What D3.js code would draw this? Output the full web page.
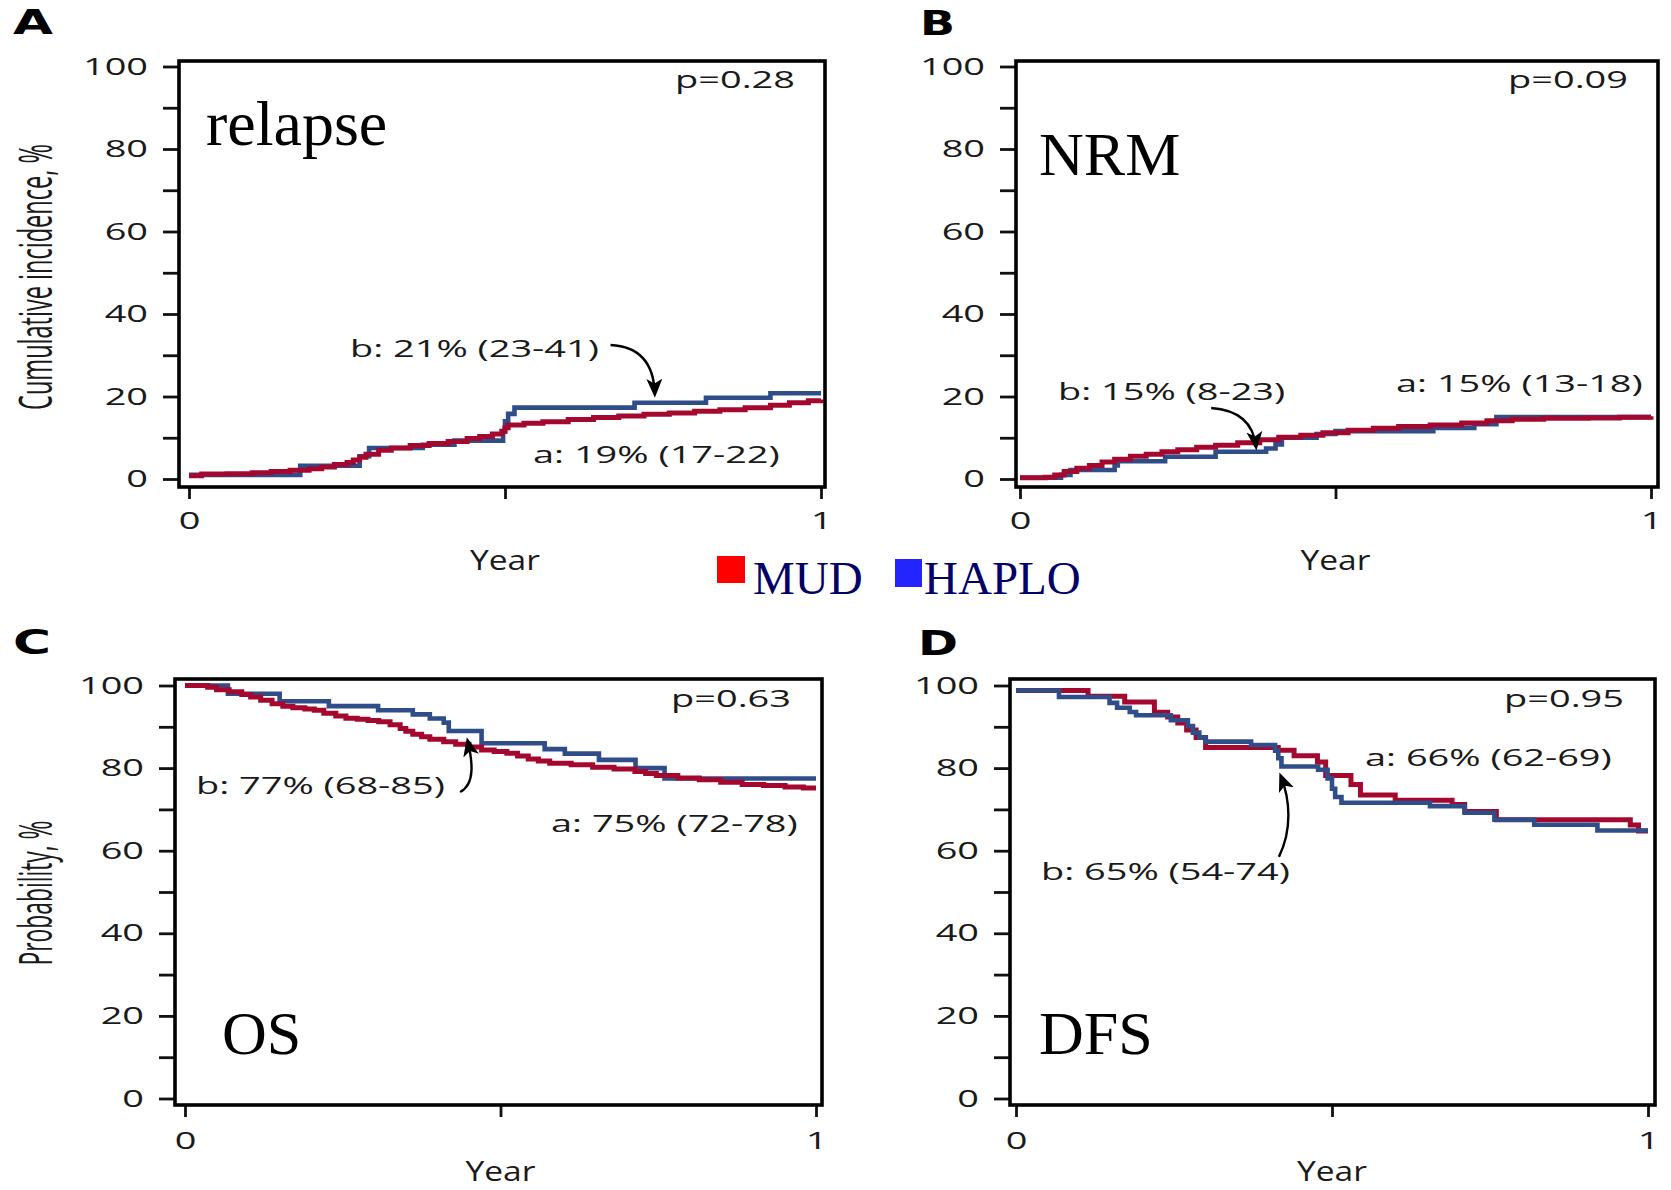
<!DOCTYPE html>
<html><head><meta charset="utf-8">
<script src="https://cdn.jsdelivr.net/npm/d3@7"></script>
<style>body{margin:0;background:#fff;} svg{display:block;}</style>
</head><body>
<svg id="chart" width="1671" height="1190"></svg>
<script>
// ---------------- DATA ----------------
const panelLetters = ["A", "B", "C", "D"];
const panelTitles = ["relapse", "NRM", "OS", "DFS"];
const yAxisTitles = ["Cumulative incidence, %", "", "Probability, %", ""];
const xAxisTitle = "Year";
const pValues = ["p=0.28", "p=0.09", "p=0.63", "p=0.95"];
const seriesNames = ["MUD", "HAPLO"];
const estimateLabelsMUD = ["a: 19% (17-22)", "a: 15% (13-18)", "a: 75% (72-78)", "a: 66% (62-69)"];
const estimateLabelsHAPLO = ["b: 21% (23-41)", "b: 15% (8-23)", "b: 77% (68-85)", "b: 65% (54-74)"];
const yTickValues = [0, 10, 20, 30, 40, 50, 60, 70, 80, 90, 100];
const yTickLabels = ["0", "", "20", "", "40", "", "60", "", "80", "", "100"];
const xTickValues = [0, 0.5, 1];
const xTickLabels = ["0", "", "1"];

// [year, %]
const relapseMUD = [[0,0.8],[0.02,1.2],[0.06,1.3],[0.1,1.5],[0.13,1.8],[0.16,2.1],[0.19,2.5],[0.21,2.9],[0.23,3.5],[0.25,4.0],[0.26,4.6],[0.27,5.3],[0.28,6.0],[0.30,7.0],[0.32,7.5],[0.35,8.1],[0.38,8.6],[0.41,9.1],[0.44,9.8],[0.46,10.3],[0.48,10.9],[0.495,11.6],[0.50,12.4],[0.505,13.1],[0.53,13.5],[0.56,13.9],[0.60,14.4],[0.64,14.9],[0.68,15.3],[0.72,15.7],[0.76,16.0],[0.80,16.4],[0.84,16.8],[0.88,17.3],[0.92,17.9],[0.95,18.5],[0.98,19.0],[1.0,19.3]];
const relapseHAPLO = [[0,1.0],[0.176,3.2],[0.27,5.5],[0.285,7.5],[0.37,8.3],[0.42,9.3],[0.497,11.5],[0.50,14.0],[0.505,15.8],[0.515,17.3],[0.705,18.5],[0.818,19.7],[0.92,20.8],[1.0,20.8]];
const nrmMUD = [[0,0.3],[0.04,0.4],[0.055,1.0],[0.07,1.8],[0.09,2.6],[0.11,3.3],[0.13,4.1],[0.15,4.8],[0.175,5.5],[0.2,6.0],[0.225,6.6],[0.25,7.1],[0.28,7.7],[0.31,8.2],[0.345,8.8],[0.38,9.5],[0.41,10.1],[0.445,10.6],[0.48,11.2],[0.52,11.8],[0.56,12.3],[0.6,12.7],[0.65,13.1],[0.7,13.6],[0.74,14.1],[0.78,14.5],[0.83,14.7],[0.9,14.8],[0.95,15.0],[1.0,15.2]];
const nrmHAPLO = [[0,0.3],[0.065,1.0],[0.08,2.2],[0.15,3.3],[0.155,4.3],[0.23,5.4],[0.31,6.6],[0.39,7.4],[0.405,8.4],[0.415,10.0],[0.47,10.9],[0.50,11.6],[0.655,12.4],[0.72,13.3],[0.755,15.0],[1.0,15.0]];
const osMUD = [[0,100],[0.036,99.6],[0.05,99.0],[0.07,98.5],[0.09,97.8],[0.104,97.2],[0.12,96.4],[0.138,95.6],[0.155,95.0],[0.171,94.6],[0.19,94.3],[0.205,94.0],[0.22,93.3],[0.239,92.6],[0.255,92.1],[0.273,91.8],[0.29,91.5],[0.307,91.2],[0.325,90.5],[0.341,89.6],[0.35,88.9],[0.361,88.2],[0.375,87.6],[0.388,87.0],[0.41,86.4],[0.429,85.8],[0.45,85.1],[0.47,84.4],[0.49,84.0],[0.51,83.6],[0.527,82.9],[0.544,82.2],[0.56,81.7],[0.578,81.2],[0.612,80.8],[0.646,80.2],[0.68,79.8],[0.713,79.2],[0.73,78.7],[0.747,78.2],[0.781,77.6],[0.815,77.2],[0.849,76.6],[0.883,76.0],[0.917,75.8],[0.951,75.4],[0.98,75.2],[1.0,75.2]];
const osHAPLO = [[0,100],[0.068,98],[0.15,96.2],[0.228,95],[0.306,94],[0.361,93],[0.388,92],[0.41,91],[0.418,89],[0.47,86],[0.57,84.6],[0.602,83.5],[0.656,82],[0.714,80],[0.76,77.5],[1.0,77.5]];
const dfsMUD = [[0,98.8],[0.114,97.4],[0.172,96.0],[0.219,93.5],[0.24,92.4],[0.256,90.9],[0.27,89.2],[0.285,87.4],[0.30,85.0],[0.415,84.3],[0.44,83.0],[0.477,81.5],[0.49,78.2],[0.53,76.0],[0.545,73.5],[0.60,72.2],[0.69,71.2],[0.71,69.5],[0.76,67.5],[0.972,66.2],[0.985,64.8],[1.0,64.8]];
const dfsHAPLO = [[0,98.8],[0.068,97.2],[0.148,95.8],[0.16,94.6],[0.18,93.6],[0.19,92.8],[0.245,91.6],[0.272,90.2],[0.28,88.6],[0.29,87.4],[0.30,86.4],[0.372,85.6],[0.41,84.2],[0.415,82.4],[0.42,80.4],[0.478,79.6],[0.493,77.5],[0.50,75.0],[0.505,73.0],[0.515,71.6],[0.655,70.8],[0.71,69.2],[0.757,67.5],[0.82,66.3],[0.92,64.9],[1.0,64.9]];

const mudSeries = [relapseMUD, nrmMUD, osMUD, dfsMUD];
const haploSeries = [relapseHAPLO, nrmHAPLO, osHAPLO, dfsHAPLO];

// arrows in data units [year, %]: start, control(s), tip
const arrowsData = [
  [[0.667,32.5],[0.735,32.0],[0.737,20.6]],
  [[0.303,17.2],[0.368,16.5],[0.374,7.8]],
  [[0.436,74.2],[0.461,76.2],[0.455,82.0],[0.448,86.6]],
  [[0.416,58.5],[0.437,65.0],[0.434,72.3],[0.419,78.1]]
];

// ---------------- LAYOUT ----------------
const layout = [
  {frame:[179,61,825,487], x0:189, x1:821, yTop:66.5, yBot:479, letter:[13,34,40], title:[206,145], yTitle:[52,277,266], yearY:570, p:[795,88], aPos:[533,463], bPos:[350,357], haploOnTop:false, xPad:13},
  {frame:[1016,61,1658,487], x0:1020, x1:1651, yTop:66.5, yBot:479, letter:[920,35,35], title:[1039,175], yTitle:null, yearY:570, p:[1628,88], aPos:[1396,392], bPos:[1058,400], haploOnTop:false, xPad:13},
  {frame:[175,679,822,1105], x0:185, x1:816, yTop:685.5, yBot:1098.5, letter:[13,654,38], title:[222,1054], yTitle:[52,893,145], yearY:1181, p:[791,707], aPos:[551,832], bPos:[196,794], haploOnTop:false, xPad:15},
  {frame:[1010,679,1655,1105], x0:1016, x1:1648, yTop:685.5, yBot:1098.5, letter:[918,655,40], title:[1039,1054], yTitle:null, yearY:1181, p:[1624,707], aPos:[1365,766], bPos:[1041,880], haploOnTop:true, xPad:15}
];

const COL_MUD = "#a5082f";
const COL_HAPLO = "#2f4d88";
const TXT = "#1a1a1a";
const SANS = "'Open Sans', 'DejaVu Sans', sans-serif";
const SERIF = "'Liberation Serif', 'Times New Roman', serif";
const STRETCH = 1.58;

const svg = d3.select("#chart");
const defs = svg.append("defs");
defs.append("marker").attr("id", "ah")
  .attr("viewBox", "0 0 10 10").attr("refX", 8).attr("refY", 5)
  .attr("markerUnits", "userSpaceOnUse").attr("markerWidth", 19).attr("markerHeight", 19)
  .attr("orient", "auto")
  .append("path").attr("d", "M0,0.8 L10,5 L0,9.2 L2.5,5 Z").attr("fill", "#000");

function stretch(sel, f) {
  sel.each(function () {
    const w = this.getComputedTextLength();
    if (w > 0) d3.select(this).attr("textLength", w * f).attr("lengthAdjust", "spacingAndGlyphs");
  });
}

layout.forEach((L, i) => {
  const g = svg.append("g");
  const x = d3.scaleLinear().domain([0, 1]).range([L.x0, L.x1]);
  const y = d3.scaleLinear().domain([0, 100]).range([L.yBot, L.yTop]);
  const [fl, ft, fr, fb] = L.frame;

  // y axis
  const yAxis = d3.axisLeft(y).tickValues(yTickValues).tickSize(16).tickPadding(15)
    .tickFormat(d => yTickLabels[yTickValues.indexOf(d)]);
  const ya = g.append("g").attr("transform", `translate(${fl},0)`).call(yAxis);
  ya.select(".domain").remove();
  ya.selectAll(".tick line").attr("stroke", "#111").attr("stroke-width", 2.8);
  ya.selectAll(".tick text").attr("fill", TXT).attr("font-family", SANS).attr("font-size", 24);
  stretch(ya.selectAll(".tick text"), STRETCH);

  // x axis
  const xAxis = d3.axisBottom(x).tickValues(xTickValues).tickSize(12).tickPadding(L.xPad)
    .tickFormat(d => xTickLabels[xTickValues.indexOf(d)]);
  const xa = g.append("g").attr("transform", `translate(0,${fb})`).call(xAxis);
  xa.select(".domain").remove();
  xa.selectAll(".tick line").attr("stroke", "#111").attr("stroke-width", 2.8);
  xa.selectAll(".tick text").attr("fill", TXT).attr("font-family", SANS).attr("font-size", 24);
  stretch(xa.selectAll(".tick text"), STRETCH);

  // curves
  const line = d3.line().x(d => x(d[0])).y(d => y(d[1])).curve(d3.curveStepAfter);
  const drawHaplo = () => g.append("path").datum(haploSeries[i]).attr("d", line)
    .attr("fill", "none").attr("stroke", COL_HAPLO).attr("stroke-width", 4.6);
  const drawMud = () => g.append("path").datum(mudSeries[i]).attr("d", line)
    .attr("fill", "none").attr("stroke", COL_MUD).attr("stroke-width", 5);
  if (L.haploOnTop) { drawMud(); drawHaplo(); } else { drawHaplo(); drawMud(); }

  // frame
  g.append("rect").attr("x", fl).attr("y", ft).attr("width", fr - fl).attr("height", fb - ft)
    .attr("fill", "none").attr("stroke", "#000").attr("stroke-width", 3.6);

  // panel letter
  g.append("text").attr("x", L.letter[0]).attr("y", L.letter[1]).text(panelLetters[i])
    .attr("font-family", "'DejaVu Sans', sans-serif").attr("font-weight", "bold").attr("font-size", 34)
    .attr("textLength", L.letter[2]).attr("lengthAdjust", "spacingAndGlyphs").attr("fill", "#000");

  // panel title
  g.append("text").attr("x", L.title[0]).attr("y", L.title[1]).text(panelTitles[i])
    .attr("font-family", SERIF).attr("font-size", i === 0 ? 64 : 62).attr("fill", "#000");

  // y title (condensed via horizontal scale of the rotated text)
  if (L.yTitle) {
    const yt = g.append("text").attr("text-anchor", "middle").text(yAxisTitles[i])
      .attr("font-family", "'Liberation Sans Narrow', 'Open Sans', sans-serif").attr("font-size", 46)
      .attr("fill", TXT);
    const w = yt.node().getComputedTextLength();
    const k = w > 0 ? L.yTitle[2] / w : 1;
    yt.attr("transform", `translate(${L.yTitle[0]},${L.yTitle[1]}) rotate(-90) scale(${k},1)`);
  }

  // x title
  g.append("text").attr("x", (L.x0 + L.x1) / 2).attr("y", L.yearY).attr("text-anchor", "middle")
    .text(xAxisTitle).attr("font-family", SANS).attr("font-size", 27)
    .attr("textLength", 70).attr("lengthAdjust", "spacingAndGlyphs").attr("fill", TXT);

  // p value
  const pt = g.append("text").attr("x", L.p[0]).attr("y", L.p[1]).attr("text-anchor", "end")
    .text(pValues[i]).attr("font-family", SANS).attr("font-size", 24).attr("fill", TXT);
  stretch(pt, STRETCH);

  // estimates
  const at = g.append("text").attr("x", L.aPos[0]).attr("y", L.aPos[1]).text(estimateLabelsMUD[i])
    .attr("font-family", SANS).attr("font-size", 24).attr("fill", TXT);
  const bt = g.append("text").attr("x", L.bPos[0]).attr("y", L.bPos[1]).text(estimateLabelsHAPLO[i])
    .attr("font-family", SANS).attr("font-size", 24).attr("fill", TXT);
  stretch(at, STRETCH); stretch(bt, STRETCH);

  // arrow
  const A = arrowsData[i].map(d => [x(d[0]), y(d[1])]);
  const p = d3.path();
  p.moveTo(A[0][0], A[0][1]);
  if (A.length === 3) p.quadraticCurveTo(A[1][0], A[1][1], A[2][0], A[2][1]);
  else p.bezierCurveTo(A[1][0], A[1][1], A[2][0], A[2][1], A[3][0], A[3][1]);
  g.append("path").attr("d", p.toString()).attr("fill", "none").attr("stroke", "#000")
    .attr("stroke-width", 2.4).attr("marker-end", "url(#ah)");
});

// legend
const legendItems = [
  {name: seriesNames[0], color: "#ff0000", sq: [717, 556, 28, 27], tx: 753},
  {name: seriesNames[1], color: "#2424ff", sq: [895, 559, 27, 28], tx: 924}
];
const lg = svg.append("g");
legendItems.forEach(it => {
  lg.append("rect").attr("x", it.sq[0]).attr("y", it.sq[1]).attr("width", it.sq[2]).attr("height", it.sq[3]).attr("fill", it.color);
  lg.append("text").attr("x", it.tx).attr("y", 594).text(it.name)
    .attr("font-family", SERIF).attr("font-size", 47).attr("fill", "#000066");
});
</script>
</body></html>
